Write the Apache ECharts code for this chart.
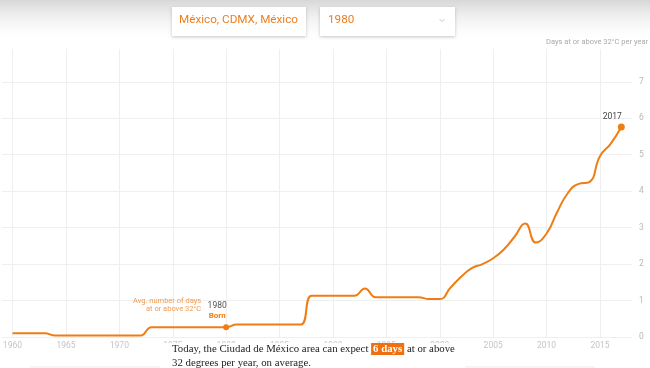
<!DOCTYPE html>
<html>
<head>
<meta charset="utf-8">
<style>
html,body{margin:0;padding:0;background:#fff;}
#chart{width:650px;height:368px;}
</style>
<script src="https://cdn.jsdelivr.net/npm/echarts@6/dist/echarts.min.js"></script>
</head>
<body>
<div id="chart"></div>
<script>
var years = [1960,1961,1962,1963,1964,1965,1966,1967,1968,1969,1970,1971,1972,1973,1974,1975,1976,1977,1978,1979,1980,1981,1982,1983,1984,1985,1986,1987,1988,1989,1990,1991,1992,1993,1994,1995,1996,1997,1998,1999,2000,2001,2002,2003,2004,2005,2006,2007,2008,2009,2010,2011,2012,2013,2014,2015,2016,2017];
var daysAbove32 = [0.1,0.1,0.1,0.1,0.04,0.04,0.04,0.04,0.04,0.04,0.04,0.04,0.04,0.27,0.27,0.27,0.27,0.27,0.27,0.27,0.27,0.34,0.34,0.34,0.34,0.34,0.34,0.34,1.13,1.13,1.13,1.13,1.13,1.33,1.09,1.09,1.09,1.09,1.09,1.04,1.04,1.35,1.65,1.89,2.0,2.16,2.4,2.75,3.11,2.59,2.84,3.43,3.95,4.2,4.25,4.96,5.3,5.76];
var bornYear = 1980;
var lastYear = 2017;
var yTicks = [0,1,2,3,4,5,6,7];
var xTickYears = [1960,1965,1970,1975,1980,1985,1990,1995,2000,2005,2010,2015];
var placeName = 'México, CDMX, México';
var todayDays = '6 days';

var ORANGE = '#f07d14';
var seriesData = years.map(function (y, i) {
  var item = { value: [y, daysAbove32[i]] };
  if (y === bornYear) {
    item.symbol = 'circle';
    item.symbolSize = 6;
    item.label = {
      show: true, position: 'top', distance: 3, offset: [-9, 0],
      formatter: '{y|' + bornYear + '}\n{b|Born}',
      rich: {
        y: { color: '#555', fontSize: 8.5, fontFamily: 'Roboto', lineHeight: 10, align: 'center' },
        b: { color: ORANGE, fontSize: 8, fontWeight: 'bold', fontFamily: 'Roboto', lineHeight: 10, align: 'center' }
      }
    };
  } else if (y === lastYear) {
    item.symbol = 'circle';
    item.symbolSize = 7;
    item.label = {
      show: true, position: 'top', distance: 2, offset: [-9, 0],
      formatter: String(lastYear), color: '#444', fontSize: 8.5, fontFamily: 'Roboto'
    };
  } else {
    item.symbol = 'none';
  }
  return item;
});

var chart = echarts.init(document.getElementById('chart'), null, { renderer: 'canvas' });
chart.setOption({
  animation: false,
  backgroundColor: '#fff',
  grid: { left: 1, right: 18, top: 49, bottom: 31, containLabel: false },
  xAxis: {
    type: 'value', min: 1959, max: 2018, splitNumber: 12,
    axisLine: { show: false }, axisTick: { show: false },
    splitLine: { show: true, showMinLine: false, showMaxLine: false, lineStyle: { color: '#efefef', width: 1 } },
    axisLabel: {
      color: '#c4c4c4', fontSize: 8.5, fontFamily: 'Roboto', margin: 4,
      showMinLabel: false, showMaxLabel: false,
      formatter: function (v) { return xTickYears.indexOf(v) >= 0 ? String(v) : ''; }
    }
  },
  yAxis: {
    type: 'value', position: 'right', min: 0, max: 7.9, interval: 1,
    axisLine: { show: false }, axisTick: { show: false },
    splitLine: { show: true, showMaxLine: false, lineStyle: { color: '#efefef', width: 1 } },
    axisLabel: {
      color: '#b8b8b8', fontSize: 8.5, fontFamily: 'Roboto', margin: 7,
      formatter: function (v) { return yTicks.indexOf(v) >= 0 ? String(v) : ''; }
    }
  },
  series: [{
    type: 'line',
    data: seriesData,
    smooth: 0.5,
    showSymbol: true,
    showAllSymbol: true,
    lineStyle: { color: ORANGE, width: 2 },
    itemStyle: { color: ORANGE },
    markPoint: {
      symbol: 'circle', symbolSize: 0,
      data: [{
        coord: [bornYear, daysAbove32[years.indexOf(bornYear)]],
        label: {
          show: true, position: 'inside', offset: [-25, -22],
          align: 'right', verticalAlign: 'middle',
          formatter: 'Avg. number of days\nat or above 32°C',
          color: '#f39a50', fontSize: 7.5, lineHeight: 8, fontFamily: 'Roboto'
        }
      }]
    },
    z: 3
  }],
  graphic: [
    { type: 'rect', left: 0, top: 0, z: 10, shape: { width: 650, height: 44 },
      style: { fill: new echarts.graphic.LinearGradient(0, 0, 0, 1, [
        { offset: 0, color: '#d7d7d7' }, { offset: 1, color: 'rgba(255,255,255,0)' }]) } },
    { type: 'rect', left: 172, top: 7, z: 11, shape: { width: 134, height: 29 },
      style: { fill: '#fff', shadowBlur: 3, shadowColor: 'rgba(0,0,0,0.22)', shadowOffsetY: 1 } },
    { type: 'text', left: 179, top: 14.5, z: 12,
      style: { text: placeName, fill: '#ec7e22', font: '11.7px Roboto' } },
    { type: 'rect', left: 320, top: 7, z: 11, shape: { width: 135, height: 29 },
      style: { fill: '#fff', shadowBlur: 3, shadowColor: 'rgba(0,0,0,0.22)', shadowOffsetY: 1 } },
    { type: 'text', left: 328, top: 14.5, z: 12,
      style: { text: String(bornYear), fill: '#ec7e22', font: '11.7px Roboto' } },
    { type: 'polyline', z: 12, shape: { points: [[439.5, 19], [442, 21.5], [444.5, 19]] },
      style: { stroke: '#bbb', lineWidth: 0.8, fill: null } },
    { type: 'text', right: 2, top: 38, z: 12,
      style: { text: 'Days at or above 32°C per year', fill: '#aaa', font: '7.5px Roboto', textAlign: 'right' } },
    { type: 'rect', left: 160, top: 343, z: 10, shape: { width: 305, height: 25 },
      style: { fill: 'rgba(255,255,255,0.93)' } },
    { type: 'rect', left: 30, top: 366, z: 9, shape: { width: 565, height: 2 },
      style: { fill: 'rgba(0,0,0,0.04)' } },
    { type: 'text', left: 172, top: 343, z: 12,
      style: {
        text: '{n|Today, the Ciudad de México area can expect }{h|' + todayDays + '}{n| at or above}\n{n|32 degrees per year, on average.}',
        rich: {
          n: { fill: '#222', font: '10.8px "Liberation Serif"', lineHeight: 14 },
          h: { fill: '#fff', font: 'bold 10.8px "Liberation Serif"', backgroundColor: '#ee7011', padding: [1, 2, 0, 2], lineHeight: 14 }
        }
      } }
  ]
});
</script>
</body>
</html>
